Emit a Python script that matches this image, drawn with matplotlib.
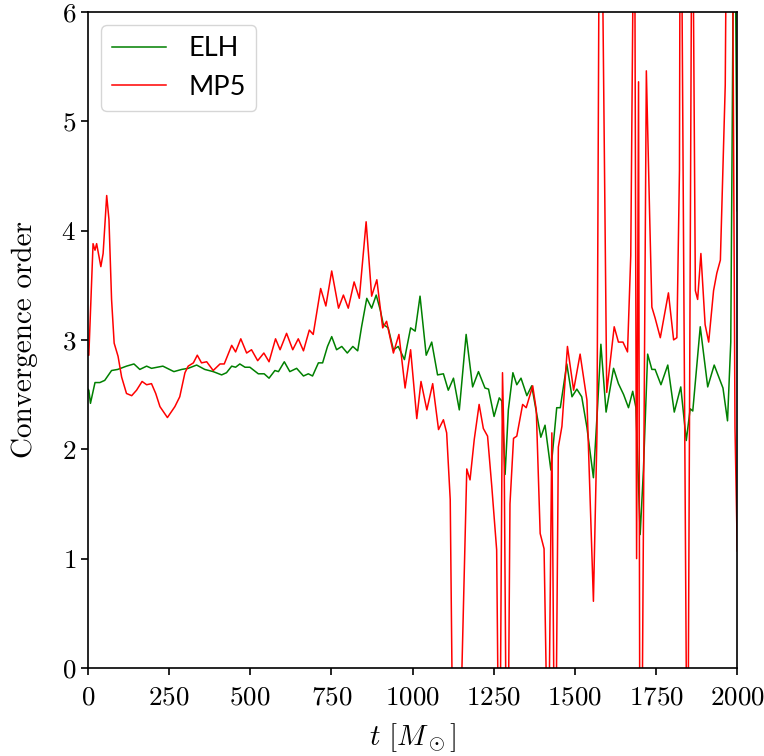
#!/usr/bin/env python3

import matplotlib
matplotlib.use("Agg")

import matplotlib.pyplot as plt

# values (t in M_sun, convergence order)
elh_t = [0, 3, 8, 22, 37, 52, 73, 92, 119, 142, 160, 181, 196, 231, 265, 289,
         309, 335, 360, 386, 412, 427, 443, 455, 468, 484, 499, 525, 543, 558,
         576, 587, 605, 622, 643, 664, 679, 692, 710, 723, 738, 751, 766, 782,
         799, 816, 831, 843, 859, 874, 888, 900, 910, 925, 941, 956, 975, 994,
         1008, 1023, 1042, 1059, 1077, 1095, 1110, 1126, 1144, 1165, 1185, 1203,
         1223, 1234, 1251, 1267, 1275, 1285, 1295, 1309, 1321, 1334, 1352, 1367,
         1395, 1408, 1426, 1444, 1455, 1475, 1491, 1506, 1521, 1537, 1557, 1570,
         1580, 1596, 1619, 1634, 1650, 1665, 1678, 1688, 1701, 1711, 1724, 1737,
         1747, 1765, 1786, 1806, 1826, 1843, 1855, 1863, 1886, 1909, 1929, 1956,
         1970, 1980, 1988, 1994, 2000]
elh_y = [2.55, 2.54, 2.42, 2.61, 2.61, 2.63, 2.72, 2.73, 2.76, 2.78, 2.73, 2.76,
         2.74, 2.76, 2.71, 2.73, 2.74, 2.77, 2.73, 2.71, 2.68, 2.70, 2.76, 2.75,
         2.78, 2.75, 2.75, 2.69, 2.69, 2.65, 2.72, 2.71, 2.80, 2.71, 2.74, 2.67,
         2.69, 2.67, 2.79, 2.79, 2.94, 3.03, 2.91, 2.94, 2.88, 2.94, 2.90, 3.12,
         3.38, 3.29, 3.41, 3.28, 3.14, 3.11, 2.91, 2.94, 2.82, 3.11, 3.08, 3.40,
         2.86, 2.98, 2.68, 2.69, 2.54, 2.65, 2.36, 3.05, 2.57, 2.71, 2.56, 2.55,
         2.30, 2.47, 2.44, 1.77, 2.36, 2.70, 2.59, 2.65, 2.49, 2.58, 2.11, 2.22,
         1.81, 2.38, 2.38, 2.78, 2.48, 2.55, 2.48, 2.20, 1.74, 2.40, 2.96, 2.34,
         2.74, 2.60, 2.50, 2.38, 2.53, 2.38, 1.22, 1.81, 2.87, 2.73, 2.73, 2.59,
         2.77, 2.34, 2.57, 2.08, 2.37, 2.35, 3.12, 2.57, 2.77, 2.56, 2.26, 2.98,
         6.5, 6.5, 4.18]

mp5_t = [0, 3, 16, 22, 27, 40, 47, 58, 65, 73, 81, 93, 104, 119, 135, 150, 167,
         181, 196, 209, 222, 245, 268, 283, 299, 309, 325, 337, 350, 366, 386,
         407, 420, 443, 455, 471, 489, 504, 523, 542, 558, 578, 592, 612, 631,
         648, 664, 682, 694, 717, 733, 751, 772, 787, 802, 820, 836, 857, 874,
         890, 908, 920, 941, 958, 977, 994, 1013, 1026, 1044, 1062, 1080, 1095,
         1105, 1116, 1123, 1130, 1142, 1148, 1167, 1177, 1190, 1205, 1218, 1231,
         1244, 1259, 1264, 1270, 1277, 1282, 1288, 1295, 1300, 1311, 1321, 1339,
         1350, 1370, 1381, 1393, 1405, 1414, 1420, 1429, 1436, 1442, 1449, 1460,
         1477, 1496, 1516, 1537, 1547, 1557, 1568, 1575, 1583, 1598, 1621, 1634,
         1648, 1662, 1672, 1681, 1684, 1690, 1696, 1700, 1706, 1720, 1730, 1737,
         1747, 1763, 1788, 1804, 1814, 1822, 1824, 1828, 1845, 1848, 1860, 1863,
         1871, 1878, 1888, 1901, 1912, 1927, 1937, 1948, 1963, 1967, 1985, 1993,
         2000]
mp5_y = [2.86, 2.86, 3.88, 3.82, 3.88, 3.67, 3.79, 4.32, 4.10, 3.37, 2.97, 2.85,
         2.66, 2.51, 2.49, 2.54, 2.62, 2.59, 2.60, 2.51, 2.39, 2.29, 2.39, 2.48,
         2.70, 2.76, 2.79, 2.86, 2.79, 2.80, 2.72, 2.78, 2.78, 2.95, 2.89, 3.01,
         2.88, 2.91, 2.81, 2.88, 2.80, 3.01, 2.91, 3.06, 2.91, 3.01, 2.90, 3.09,
         3.05, 3.47, 3.31, 3.63, 3.29, 3.41, 3.29, 3.53, 3.38, 4.08, 3.40, 3.55,
         3.11, 3.17, 2.88, 3.05, 2.56, 2.91, 2.28, 2.62, 2.36, 2.60, 2.18, 2.27,
         2.15, 1.54, -0.5, -1.0, -1.0, -0.5, 1.82, 1.72, 2.09, 2.41, 2.19, 2.12,
         1.66, 1.08, -0.5, -0.5, 2.70, 2.00, -0.5, -0.5, 1.50, 2.10, 2.12, 2.41,
         2.38, 2.58, 2.36, 1.23, 1.09, -0.5, -0.5, 2.15, -0.5, -0.5, 2.02, 2.21,
         2.94, 2.54, 2.87, 2.45, 1.54, 0.61, 2.15, 7.0, 7.0, 2.52, 3.12, 2.98,
         2.98, 2.89, 3.77, 7.0, 7.0, 1.00, 5.36, -1.0, -1.0, 5.46, 4.16, 3.30,
         3.20, 3.02, 3.43, 3.00, 3.02, 4.55, 7.0, 7.0, -1.0, -1.0, 7.0, 7.0,
         3.45, 3.37, 3.79, 3.14, 2.98, 3.45, 3.61, 3.73, 5.33, 7.0, 7.0, 2.20,
         1.07]

assert len(elh_t) == len(elh_y)
assert len(mp5_t) == len(mp5_y)

x_ticks = [0, 250, 500, 750, 1000, 1250, 1500, 1750, 2000]
y_ticks = [0, 1, 2, 3, 4, 5, 6]

plt.rcParams["font.family"] = "cmr10"
plt.rcParams["mathtext.fontset"] = "cm"
plt.rcParams["axes.formatter.use_mathtext"] = True

fig = plt.figure(figsize=(7.64, 7.56), dpi=100)
ax = fig.add_axes([0.115, 0.1164, 0.85, 0.868])

ax.plot(elh_t, elh_y, color="green", lw=1.1, label="ELH")
ax.plot(mp5_t, mp5_y, color="red", lw=1.1, label="MP5")

ax.set_xlim(0, 2000)
ax.set_ylim(0, 6)
ax.set_xticks(x_ticks)
ax.set_yticks(y_ticks)
ax.tick_params(labelsize=19.5, width=1.2, length=5)
ax.tick_params(axis="x", pad=8)
for sp in ax.spines.values():
    sp.set_linewidth(1.2)

ax.set_xlabel(r"$t\ [M_\odot]$", fontsize=21, labelpad=8)
ax.set_ylabel("Convergence order", fontsize=21, labelpad=17)

ax.legend(loc="upper left", prop={"family": "Lato", "size": 19.5},
          handletextpad=0.8)

fig.savefig("out.png", dpi=100)
